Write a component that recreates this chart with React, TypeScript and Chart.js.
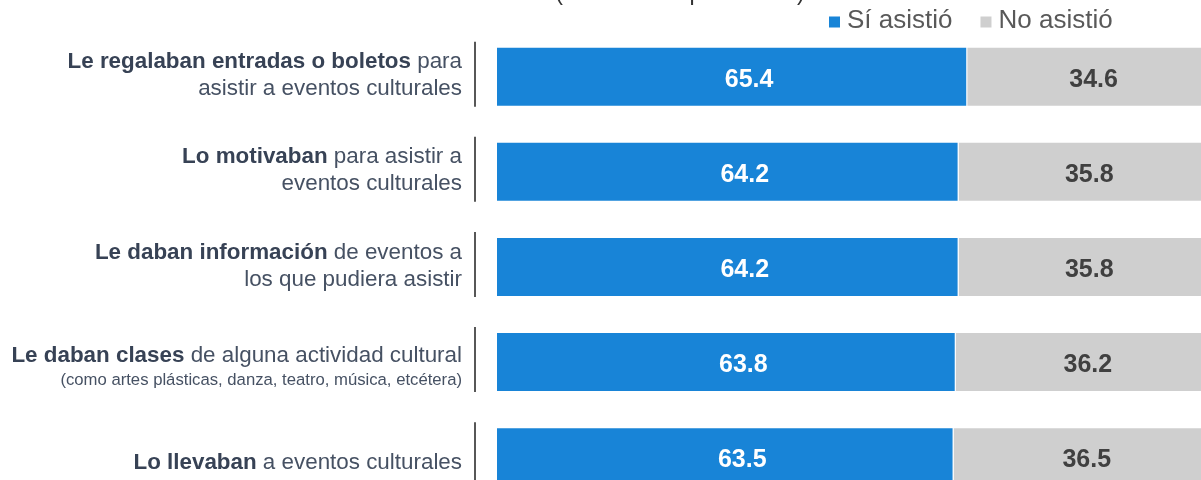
import React, { useEffect, useRef } from "react";
import { Chart, registerables } from "chart.js";

Chart.register(...registerables);

// ---------- data ----------
const categories = [
  "Le regalaban entradas o boletos",
  "Lo motivaban",
  "Le daban información",
  "Le daban clases",
  "Lo llevaban",
];
const siAsistio = [65.4, 64.2, 64.2, 63.8, 63.5];
const noAsistio = [34.6, 35.8, 35.8, 36.2, 36.5];
const seriesNames = ["Sí asistió", "No asistió"];
const seriesColors = ["#1884d7", "#cfcfcf"];
const valueColors = ["#ffffff", "#404040"];
const titleText = "(Distribución porcentual)";

type Seg = { t: string; b: boolean };
type Line = { segs: Seg[]; small?: boolean };
const categoryLines: Line[][] = [
  [
    { segs: [{ t: "Le regalaban entradas o boletos", b: true }, { t: " para", b: false }] },
    { segs: [{ t: "asistir a eventos culturales", b: false }] },
  ],
  [
    { segs: [{ t: "Lo motivaban", b: true }, { t: " para asistir a", b: false }] },
    { segs: [{ t: "eventos culturales", b: false }] },
  ],
  [
    { segs: [{ t: "Le daban información", b: true }, { t: " de eventos a", b: false }] },
    { segs: [{ t: "los que pudiera asistir", b: false }] },
  ],
  [
    { segs: [{ t: "Le daban clases", b: true }, { t: " de alguna actividad cultural", b: false }] },
    { segs: [{ t: "(como artes plásticas, danza, teatro, música, etcétera)", b: false }], small: true },
  ],
  [{ segs: [{ t: "Lo llevaban", b: true }, { t: " a eventos culturales", b: false }] }],
];

const FONT = '"Liberation Sans", Arial, sans-serif';

const OFFSET_TOP = 40; // canvas extends above the visible page
const CANVAS_W = 1240;
const CANVAS_H = 560;

const decorPlugin = {
  id: "decor",
  afterDatasetsDraw(chart: any) {
    const ctx = chart.ctx as CanvasRenderingContext2D;
    const area = chart.chartArea;
    const yScale = chart.scales.y;
    ctx.save();

    // value labels
    chart.data.datasets.forEach((ds: any, di: number) => {
      const meta = chart.getDatasetMeta(di);
      meta.data.forEach((el: any, i: number) => {
        const v = ds.data[i];
        const cx = (el.x + el.base) / 2 + (di === 0 ? 17 : 2);
        ctx.font = `bold 25px ${FONT}`;
        ctx.fillStyle = valueColors[di];
        ctx.textAlign = "center";
        ctx.textBaseline = "alphabetic";
        ctx.fillText(v.toFixed(1), cx, el.y + 10);
      });
    });

    // category labels + separator lines
    categoryLines.forEach((lines, i) => {
      const c = yScale.getPixelForValue(i);
      const heights = lines.map((l) => (l.small ? 24 : 27));
      const H = heights.reduce((a, b) => a + b, 0);
      const twoRegular = lines.length === 2 && lines.every((l) => !l.small);
      const shift = twoRegular ? -3 : 3.5;
      let top = c - H / 2 + shift;
      const rightX = area.left - 35;
      lines.forEach((line, li) => {
        const fs = line.small ? 16.7 : 22.4;
        const baseline = top + heights[li] / 2 + fs * 0.36;
        let total = 0;
        line.segs.forEach((s) => {
          ctx.font = `${s.b ? "bold " : ""}${fs}px ${FONT}`;
          total += ctx.measureText(s.t).width;
        });
        let x = rightX - total;
        ctx.textAlign = "left";
        ctx.textBaseline = "alphabetic";
        line.segs.forEach((s) => {
          ctx.font = `${s.b ? "bold " : ""}${fs}px ${FONT}`;
          ctx.fillStyle = s.b ? "#374255" : "#465163";
          ctx.fillText(s.t, x, baseline);
          x += ctx.measureText(s.t).width;
        });
        top += heights[li];
      });
      // separator line
      const el = chart.getDatasetMeta(0).data[i];
      const h = el.height;
      ctx.strokeStyle = "#454545";
      ctx.lineWidth = 1.8;
      ctx.beginPath();
      ctx.moveTo(area.left - 22, c - h / 2 - 5);
      ctx.lineTo(area.left - 22, c + h / 2);
      ctx.stroke();
    });

    // title (mostly above visible page)
    ctx.font = `23px ${FONT}`;
    ctx.fillStyle = "#333333";
    ctx.textAlign = "center";
    ctx.textBaseline = "alphabetic";
    ctx.fillText(titleText, 680, OFFSET_TOP);

    // legend
    ctx.font = `26px ${FONT}`;
    let lx = 829;
    const ly = OFFSET_TOP + 28;
    seriesNames.forEach((name, i) => {
      ctx.fillStyle = seriesColors[i];
      ctx.fillRect(lx, OFFSET_TOP + 16.5, 11, 11);
      ctx.fillStyle = "#595959";
      ctx.textAlign = "left";
      ctx.fillText(name, lx + 18, ly);
      lx += 18 + ctx.measureText(name).width + 28;
    });

    ctx.restore();
  },
};

export default function App() {
  const ref = useRef<HTMLCanvasElement | null>(null);

  useEffect(() => {
    if (!ref.current) return;
    const chart = new Chart(ref.current, {
      type: "bar",
      data: {
        labels: categories,
        datasets: [
          {
            label: seriesNames[0],
            data: siAsistio,
            backgroundColor: seriesColors[0],
            borderColor: "rgba(255,255,255,0.55)",
            borderWidth: 1,
            barPercentage: 0.631,
            categoryPercentage: 1,
          },
          {
            label: seriesNames[1],
            data: noAsistio,
            backgroundColor: seriesColors[1],
            borderColor: "rgba(255,255,255,0.55)",
            borderWidth: 1,
            barPercentage: 0.631,
            categoryPercentage: 1,
          },
        ],
      },
      options: {
        indexAxis: "y",
        responsive: false,
        animation: false,
        devicePixelRatio: 1,
        layout: {
          padding: { left: 497, right: CANVAS_W - 1216, top: 69.2, bottom: CANVAS_H - 544.7 },
        },
        scales: {
          x: { stacked: true, min: 0, max: 100, display: false },
          y: { stacked: true, display: false },
        },
        plugins: {
          legend: { display: false },
          title: { display: false },
          tooltip: { enabled: false },
        },
      },
      plugins: [decorPlugin],
    });
    return () => chart.destroy();
  }, []);

  return (
    <div
      style={{
        position: "fixed",
        left: 0,
        top: 0,
        width: 1201,
        height: 480,
        overflow: "hidden",
        background: "#ffffff",
      }}
    >
      <canvas
        ref={ref}
        width={CANVAS_W}
        height={CANVAS_H}
        style={{ position: "absolute", left: 0, top: -OFFSET_TOP, width: CANVAS_W, height: CANVAS_H }}
      />
    </div>
  );
}
